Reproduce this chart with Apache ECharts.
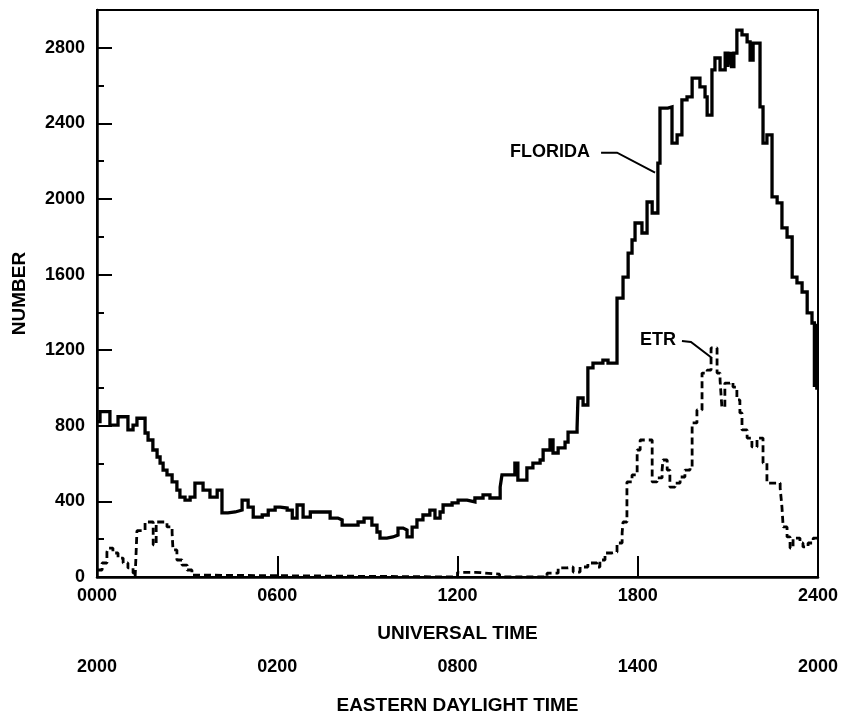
<!DOCTYPE html>
<html>
<head>
<meta charset="utf-8">
<script src="https://cdn.jsdelivr.net/npm/echarts@6/dist/echarts.min.js"></script>
<style>
html,body{margin:0;padding:0;background:#fff;}
#chart{width:844px;height:712px;}
</style>
</head>
<body>
<div id="chart"></div>
<script>
// ---- data ----
var floridaHours = [0.0,0.1,0.43,0.70,1.03,1.2,1.33,1.6,1.7,1.86,2.0,2.1,2.2,2.33,2.5,2.66,2.76,2.93,3.1,3.26,3.53,3.76,4.0,4.16,4.36,4.6,4.83,5.03,5.2,5.5,5.7,5.93,6.1,6.33,6.5,6.66,6.86,7.1,7.76,8.02,8.16,8.69,8.89,9.15,9.32,9.42,9.65,9.85,10.02,10.19,10.32,10.49,10.65,10.85,11.08,11.25,11.42,11.52,11.82,12.02,12.32,12.58,12.85,13.08,13.42,13.48,13.91,14.01,14.31,14.51,14.75,14.85,15.08,15.18,15.35,15.58,15.68,15.98,16.01,16.18,16.34,16.51,16.84,17.01,17.31,17.51,17.68,17.81,17.91,18.14,18.31,18.48,18.67,18.74,19.0,19.14,19.31,19.47,19.64,19.81,20.07,20.24,20.31,20.47,20.57,20.74,20.91,21.0,21.05,21.12,21.2,21.3,21.47,21.64,21.74,21.84,22.07,22.17,22.3,22.47,22.64,22.8,22.97,23.14,23.3,23.47,23.64,23.8,23.88,23.92,23.96,24.0];
var floridaValues = [822,875,804,848,778,804,840,762,725,672,635,603,566,540,503,460,423,407,423,497,460,423,460,339,344,354,407,370,317,328,354,370,365,354,312,381,317,344,312,302,275,291,312,275,238,206,212,222,259,249,212,264,302,328,354,312,344,381,392,407,397,418,434,418,476,540,603,513,577,603,619,672,725,656,683,714,767,788,947,910,1106,1132,1148,1132,1476,1587,1714,1783,1873,1820,1984,1926,2190,2481,2487,2296,2339,2524,2540,2640,2593,2540,2444,2683,2746,2683,2772,2700,2770,2700,2772,2894,2868,2831,2735,2825,2487,2296,2339,2011,1979,1847,1799,1587,1556,1508,1397,1344,1005,1340,1000,1000];

var etrHours = [0.0,0.17,0.33,0.37,0.53,0.7,0.87,1.03,1.2,1.27,1.33,1.6,1.87,1.97,2.16,2.33,2.5,2.53,2.66,2.83,3.0,3.16,3.33,12.0,12.6,13.4,14.98,15.35,15.65,15.85,16.08,16.34,16.64,16.74,16.91,17.14,17.31,17.48,17.51,17.64,17.81,17.98,18.08,18.48,18.64,18.81,18.84,18.98,19.07,19.24,19.41,19.57,19.74,19.81,19.97,20.14,20.31,20.44,20.64,20.74,20.8,20.9,21.07,21.17,21.3,21.4,21.47,21.64,21.8,21.97,22.17,22.3,22.74,22.8,22.84,22.97,23.07,23.17,23.4,23.5,23.67,23.84,24.0];
var etrValues = [37,74,132,153,127,100,74,48,21,0,245,291,170,291,291,265,233,143,90,63,37,10,0,25,15,0,20,48,53,26,53,74,53,90,127,132,180,233,291,503,540,672,725,503,524,566,619,566,476,497,529,566,582,815,884,1079,1095,1212,1079,1042,899,1026,1032,1005,937,868,778,735,688,735,603,497,471,370,265,212,153,206,180,159,180,206,206];

var yTicks = [0,400,800,1200,1600,2000,2400,2800];
var utTickLabels = {0:'0000',6:'0600',12:'1200',18:'1800',24:'2400'};
var edtTickLabels = {0:'2000',6:'0200',12:'0800',18:'1400',24:'2000'};

function zip(xs, ys){ var out=[]; for(var i=0;i<xs.length;i++){ out.push([xs[i], ys[i]]); } return out; }

var FONT = 'Liberation Sans, Arial, sans-serif';
var chart = echarts.init(document.getElementById('chart'), null, {renderer:'canvas'});

var option = {
  backgroundColor: '#fff',
  animation: false,
  grid: {
    left: 97, right: 26, top: 10, bottom: 135,
    show: true, borderColor: '#000', borderWidth: 2,
    containLabel: false, outerBoundsMode: 'none'
  },
  xAxis: [
    {
      type: 'value', min: 0, max: 24, interval: 6, position: 'bottom',
      name: 'UNIVERSAL TIME', nameLocation: 'middle', nameGap: 47,
      nameTextStyle: {color:'#000', fontFamily: FONT, fontWeight:'bold', fontSize: 19},
      axisLine: {show:true, onZero:false, lineStyle:{color:'#000', width:2.5}},
      axisTick: {show:true, inside:true, length:21, lineStyle:{color:'#000', width:2}},
      axisLabel: {show:true, margin:10, color:'#000', fontFamily: FONT, fontWeight:'bold', fontSize:18,
                  showMinLabel:true, showMaxLabel:true,
                  formatter: function(v){ return utTickLabels[v] !== undefined ? utTickLabels[v] : ''; }},
      splitLine: {show:false}
    },
    {
      type: 'value', min: 0, max: 24, interval: 6, position: 'bottom', offset: 71,
      name: 'EASTERN DAYLIGHT TIME', nameLocation: 'middle', nameGap: 48,
      nameTextStyle: {color:'#000', fontFamily: FONT, fontWeight:'bold', fontSize: 19},
      axisLine: {show:false},
      axisTick: {show:false},
      axisLabel: {show:true, margin:10, color:'#000', fontFamily: FONT, fontWeight:'bold', fontSize:18,
                  showMinLabel:true, showMaxLabel:true,
                  formatter: function(v){ return edtTickLabels[v] !== undefined ? edtTickLabels[v] : ''; }},
      splitLine: {show:false}
    }
  ],
  yAxis: {
    type: 'value', min: 0, max: 3000, interval: 400,
    name: 'NUMBER', nameLocation: 'middle', nameGap: 68, nameRotate: 90,
    nameTextStyle: {color:'#000', fontFamily: FONT, fontWeight:'bold', fontSize: 19},
    axisLine: {show:true, lineStyle:{color:'#000', width:2.5}},
    axisTick: {show:true, inside:true, length:15, lineStyle:{color:'#000', width:2}},
    minorTick: {show:true, splitNumber:2, length:7, lineStyle:{color:'#000', width:2}},
    axisLabel: {margin:12, color:'#000', fontFamily: FONT, fontWeight:'bold', fontSize:18,
                formatter: function(v){ return yTicks.indexOf(v) >= 0 ? String(v) : ''; }},
    splitLine: {show:false}
  },
  series: [
    {
      name: 'FLORIDA', type: 'line', step: 'end', symbol: 'none',
      xAxisIndex: 0, yAxisIndex: 0,
      data: zip(floridaHours, floridaValues),
      lineStyle: {color:'#000', width:3.3, join:'miter'},
      z: 3
    },
    {
      name: 'ETR', type: 'line', step: 'end', symbol: 'none',
      xAxisIndex: 0, yAxisIndex: 0,
      data: zip(etrHours, etrValues),
      lineStyle: {color:'#000', width:2.8, type:[7,4]},
      z: 2
    }
  ]
};
chart.setOption(option);

// annotation labels anchored to points on the curves
var fl = chart.convertToPixel({xAxisIndex:0, yAxisIndex:0}, [18.61, 2139]);
var et = chart.convertToPixel({xAxisIndex:0, yAxisIndex:0}, [20.47, 1159]);
chart.setOption({
  graphic: [
    {type:'text', left: fl[0]-146, top: fl[1]-30,
     style:{text:'FLORIDA', fill:'#000', font:'bold 18px ' + FONT}},
    {type:'polyline', shape:{points:[[fl[0]-55, fl[1]-20],[fl[0]-39, fl[1]-20],[fl[0]-1, fl[1]]]},
     style:{stroke:'#000', lineWidth:2, fill:null}},
    {type:'text', left: et[0]-72, top: et[1]-27,
     style:{text:'ETR', fill:'#000', font:'bold 18px ' + FONT}},
    {type:'polyline', shape:{points:[[et[0]-30, et[1]-17],[et[0]-21, et[1]-16],[et[0], et[1]]]},
     style:{stroke:'#000', lineWidth:2, fill:null}}
  ]
});
</script>
</body>
</html>
